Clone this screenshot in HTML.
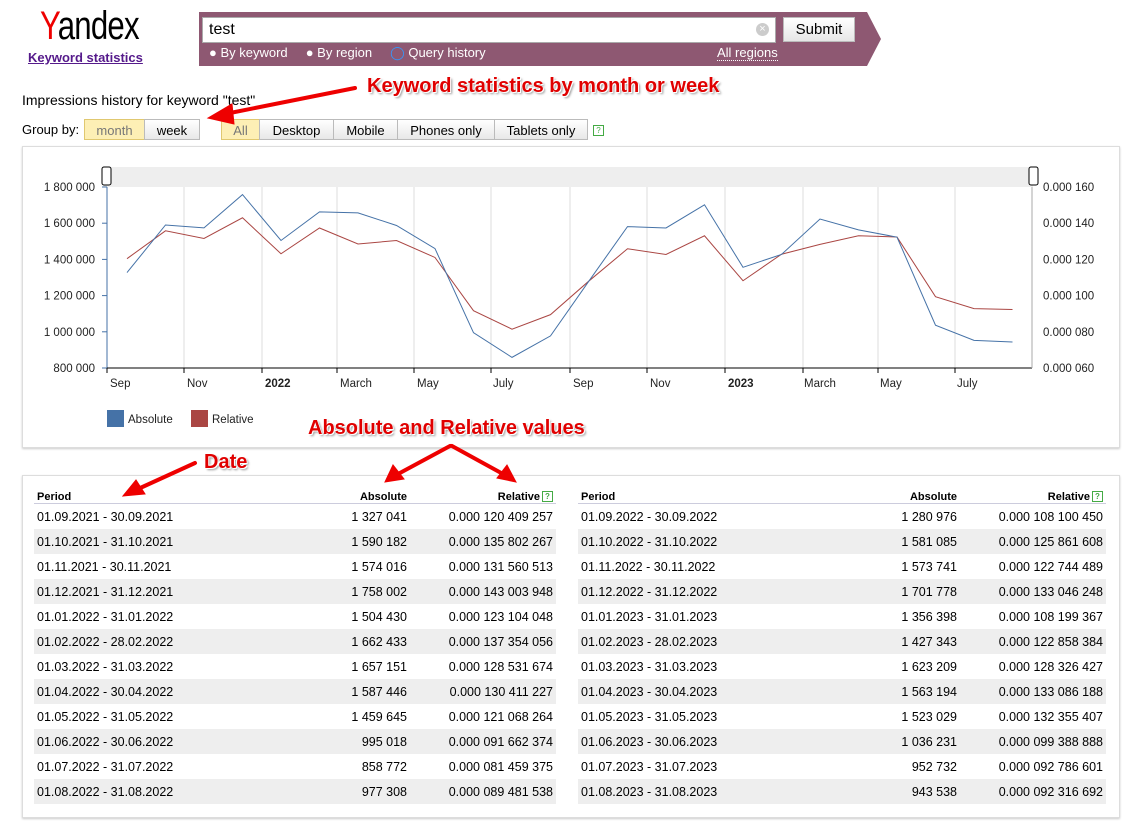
<!DOCTYPE html>
<html><head><meta charset="utf-8"><style>
body{margin:0;width:1142px;height:827px;background:#fff;font-family:"Liberation Sans",Arial,sans-serif;position:relative;overflow:hidden;color:#000}
.a{position:absolute}
.box{position:absolute;border:1px solid #ddd;box-shadow:0 1px 2px #ccc;background:#fff}
.btn{position:absolute;top:119px;height:21px;border:1px solid #bbb;background:linear-gradient(#fff,#e8e8e8);font-size:13px;line-height:21px;text-align:center;box-sizing:border-box}
.red{position:absolute;color:#e00000;font-weight:bold;font-size:20px;text-shadow:1px 1px 0 #fff,-1px -1px 0 #fff,2px 2px 2px #999;white-space:nowrap}
table{position:absolute;border-collapse:collapse;font-size:12.5px}
td{height:25px;padding:0 3px}
th{font-size:11px;font-weight:bold;height:16px;border-bottom:1px solid #ccd;padding:0 3px;vertical-align:bottom}
tr:nth-child(odd) td{background:#eee}
.r{text-align:right}
.q{display:inline-block;width:9px;height:9px;border:1px solid #4a4;font-size:8px;line-height:9px;text-align:center;color:#4a4;vertical-align:top}
</style></head><body>
<div class="a" style="left:40px;top:4px;font-size:40px;transform:scaleX(0.78);transform-origin:left;letter-spacing:-1px"><span style="color:#e00">Y</span>andex</div>
<div class="a" style="left:28px;top:50px;font-size:13px;font-weight:bold;color:#551a8b;text-decoration:underline">Keyword statistics</div>
<svg class="a" style="left:199px;top:12px" width="684" height="55"><polygon points="0,0 668,0 682,27 668,54 0,54" fill="#8e5872"/></svg>
<div class="a" style="left:202px;top:17px;width:574px;height:26px;background:#fff;border:1px solid #aaa;box-sizing:border-box;font-size:16px;line-height:24px;padding-left:6px">test<span style="position:absolute;right:6px;top:5px;width:13px;height:13px;border-radius:50%;background:#ccc;color:#fff;font-size:11px;line-height:13px;text-align:center">×</span></div>
<div class="a" style="left:783px;top:17px;width:72px;height:25px;background:linear-gradient(#fff,#e6e6e6);border:1px solid #bbb;box-sizing:border-box;font-size:15px;line-height:23px;text-align:center">Submit</div>
<div class="a" style="left:209px;top:45px;font-size:13px;color:#fff;white-space:pre">● By keyword     ● By region     <span style="color:#39f">◯</span> Query history</div>
<div class="a" style="left:717px;top:45px;font-size:13px;color:#fff;border-bottom:1px dotted #fff">All regions</div>
<div class="a" style="left:22px;top:92px;font-size:14px">Impressions history for keyword "test"</div>
<div class="a" style="left:22px;top:122px;font-size:13px">Group by:</div>
<div class="btn" style="left:84px;width:61px;background:#fdefb5;color:#777;border-color:#e0c870">month</div>
<div class="btn" style="left:144px;width:56px">week</div>
<div class="btn" style="left:221px;width:39px;background:#fdefb5;color:#777;border-color:#e0c870">All</div>
<div class="btn" style="left:259px;width:75px">Desktop</div>
<div class="btn" style="left:333px;width:65px">Mobile</div>
<div class="btn" style="left:397px;width:98px">Phones only</div>
<div class="btn" style="left:494px;width:94px">Tablets only</div>
<div class="a q" style="left:593px;top:125px">?</div>
<div class="red" style="left:367px;top:75px">Keyword statistics by month or week</div>

<div class="box" style="left:22px;top:146px;width:1096px;height:300px"></div>
<svg class="a" style="left:0;top:0" width="1142" height="460" id="ch" font-family="Liberation Sans,sans-serif" font-size="11.5"></svg>
<div class="red" style="left:308px;top:417px">Absolute and Relative values</div>

<div class="box" style="left:22px;top:475px;width:1096px;height:341px"></div>
<div class="red" style="left:204px;top:451px">Date</div>
<svg class="a" style="left:0;top:0;pointer-events:none" width="1142" height="500">
<g fill="#e00" stroke="#e00" stroke-width="4" stroke-linecap="round">
<line x1="355" y1="88" x2="225" y2="114"/><polygon points="208,118 232,104 234,124" stroke-width="1"/>
<line x1="195" y1="463" x2="138" y2="489"/><polygon points="123,496 136,480 145,494" stroke-width="1"/>
<line x1="450" y1="446" x2="398" y2="474"/><polygon points="385,482 393,465 404,479" stroke-width="1"/>
<line x1="452" y1="446" x2="503" y2="474"/><polygon points="516,482 497,478 507,465" stroke-width="1"/>
</g></svg>
<table style="left:34px;top:487px;width:522px" id="t1"></table>
<table style="left:578px;top:487px;width:528px" id="t2"></table>
<script>
var A=[1327041,1590182,1574016,1758002,1504430,1662433,1657151,1587446,1459645,995018,858772,977308,1280976,1581085,1573741,1701778,1356398,1427343,1623209,1563194,1523029,1036231,952732,943538];
var R=["120 409 257","135 802 267","131 560 513","143 003 948","123 104 048","137 354 056","128 531 674","130 411 227","121 068 264","091 662 374","081 459 375","089 481 538","108 100 450","125 861 608","122 744 489","133 046 248","108 199 367","122 858 384","128 326 427","133 086 188","132 355 407","099 388 888","092 786 601","092 316 692"];
function fmt(n){return n.toString().replace(/\B(?=(\d{3})+(?!\d))/g," ");}
var s='';
s+='<rect x="103" y="167" width="930" height="20" fill="#eee"/>';
[184,262,337,414,491,570,647,725,803,878,955].forEach(function(x){s+='<line x1="'+x+'" y1="187" x2="'+x+'" y2="368" stroke="#ddd"/>';});
for(var i=0;i<6;i++){var y=187+i*36.2;var v=1800000-i*200000;
s+='<text x="95" y="'+(y+4)+'" text-anchor="end" fill="#222">'+fmt(v)+'</text><line x1="102" y1="'+y+'" x2="107" y2="'+y+'" stroke="#4572a7"/>';
s+='<text x="1043" y="'+(y+4)+'" fill="#222">0.000 '+(160-i*20).toString().padStart(3,'0')+'</text>';}
s+='<line x1="107" y1="187" x2="107" y2="368" stroke="#4572a7"/><line x1="107" y1="368" x2="1032" y2="368" stroke="#000"/><line x1="1032" y1="187" x2="1032" y2="368" stroke="#aaa"/>';
var L=[["Sep",110],["Nov",187],["2022",265,1],["March",340],["May",417],["July",493],["Sep",573],["Nov",650],["2023",728,1],["March",804],["May",880],["July",957]];
L.forEach(function(l){s+='<text x="'+l[1]+'" y="387" fill="#222"'+(l[2]?' font-weight="bold"':'')+'>'+l[0]+'</text>';});
[107,184,262,337,414,491,570,647,725,803,878,955].forEach(function(x){s+='<line x1="'+x+'" y1="368" x2="'+x+'" y2="373" stroke="#000"/>';});
var pa='',pr='';
for(var i=0;i<24;i++){var x=127+i*38.5;pa+=x+','+(368-(A[i]-800000)/1e6*181)+' ';var r=parseInt(R[i].replace(/ /g,''))/1e6;pr+=x+','+(368-(r-60)/100*181)+' ';}
s+='<polyline points="'+pr+'" fill="none" stroke="#aa4643" stroke-width="1"/><polyline points="'+pa+'" fill="none" stroke="#4572a7" stroke-width="1"/>';
s+='<rect x="102" y="167" width="9" height="18" rx="2" fill="#fff" stroke="#000"/><rect x="1029" y="167" width="9" height="18" rx="2" fill="#fff" stroke="#000"/>';
s+='<rect x="107" y="410" width="17" height="17" fill="#4572a7"/><text x="128" y="423" fill="#222">Absolute</text><rect x="191" y="410" width="17" height="17" fill="#aa4643"/><text x="212" y="423" fill="#222">Relative</text>';
document.getElementById('ch').innerHTML=s;
function tb(id,o){var h='<tr><th style="text-align:left">Period</th><th class="r">Absolute</th><th class="r">Relative<span class="q" style="margin-left:2px">?</span></th></tr>';
for(var i=0;i<12;i++){var m=(i+8)%12+1,y=2021+o+(i>=4?1:0);var mm=(m<10?'0':'')+m;var d=new Date(y,m,0).getDate();
h+='<tr><td>01.'+mm+'.'+y+' - '+d+'.'+mm+'.'+y+'</td><td class="r">'+fmt(A[i+o*12])+'</td><td class="r" style="width:140px">0.000 '+R[i+o*12]+'</td></tr>';}
document.getElementById(id).innerHTML=h;}
tb('t1',0);tb('t2',1);
</script>
</body></html>
